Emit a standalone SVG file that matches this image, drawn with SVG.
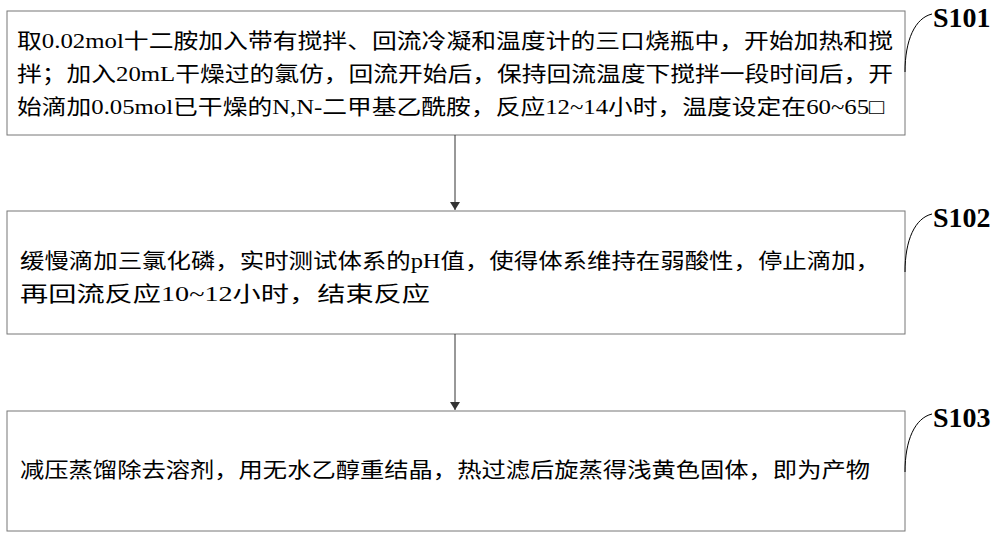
<svg xmlns="http://www.w3.org/2000/svg" width="1000" height="539" viewBox="0 0 1000 539">
<defs><marker id="ah" markerWidth="8" markerHeight="10" refX="8" refY="5" orient="auto" markerUnits="userSpaceOnUse"><path d="M0,0 L8,5 L0,10 Z" fill="#333"/></marker></defs>
<style>
.box{fill:#fff;stroke:#777;stroke-width:1}
.t{font-family:"Liberation Serif","Noto Sans CJK SC",serif;font-size:21px;fill:#000}
.lab{font-family:"Liberation Serif",serif;font-size:28px;font-weight:bold;fill:#000}
.ld{fill:none;stroke:#000;stroke-width:1}
.c{stroke:#333;stroke-width:1;fill:none}
</style>
<rect width="1000" height="539" fill="#fff"/>
<g id="s101">
<rect class="box" x="7" y="11" width="898" height="124"/>
<text class="t" x="17" y="48" textLength="876" lengthAdjust="spacingAndGlyphs">取0.02mol十二胺加入带有搅拌、回流冷凝和温度计的三口烧瓶中，开始加热和搅</text>
<text class="t" x="17" y="81" textLength="876" lengthAdjust="spacingAndGlyphs">拌；加入20mL干燥过的氯仿，回流开始后，保持回流温度下搅拌一段时间后，开</text>
<text class="t" x="17" y="114" textLength="867" lengthAdjust="spacingAndGlyphs">始滴加0.05mol已干燥的N,N-二甲基乙酰胺，反应12~14小时，温度设定在60~65□</text>
<path class="ld" d="M905,72 C905,40 915,18 932,14"/>
<text class="lab" x="933" y="27">S101</text>
</g>
<g id="s102">
<rect class="box" x="7" y="211" width="898" height="123"/>
<text class="t" x="20" y="268" textLength="860" lengthAdjust="spacingAndGlyphs">缓慢滴加三氯化磷，实时测试体系的pH值，使得体系维持在弱酸性，停止滴加，</text>
<text class="t" x="20" y="301" textLength="410" lengthAdjust="spacingAndGlyphs">再回流反应10~12小时，结束反应</text>
<path class="ld" d="M905,272 C905,240 915,218 932,214"/>
<text class="lab" x="933" y="227">S102</text>
</g>
<g id="s103">
<rect class="box" x="7" y="411" width="898" height="120"/>
<text class="t" x="20" y="477" textLength="850" lengthAdjust="spacingAndGlyphs">减压蒸馏除去溶剂，用无水乙醇重结晶，热过滤后旋蒸得浅黄色固体，即为产物</text>
<path class="ld" d="M905,472 C905,440 915,418 932,414"/>
<text class="lab" x="933" y="427">S103</text>
</g>
<g id="connectors">
<line class="c" x1="455" y1="135" x2="455" y2="210" marker-end="url(#ah)"/>
<line class="c" x1="455" y1="334" x2="455" y2="410" marker-end="url(#ah)"/>
</g>
</svg>
